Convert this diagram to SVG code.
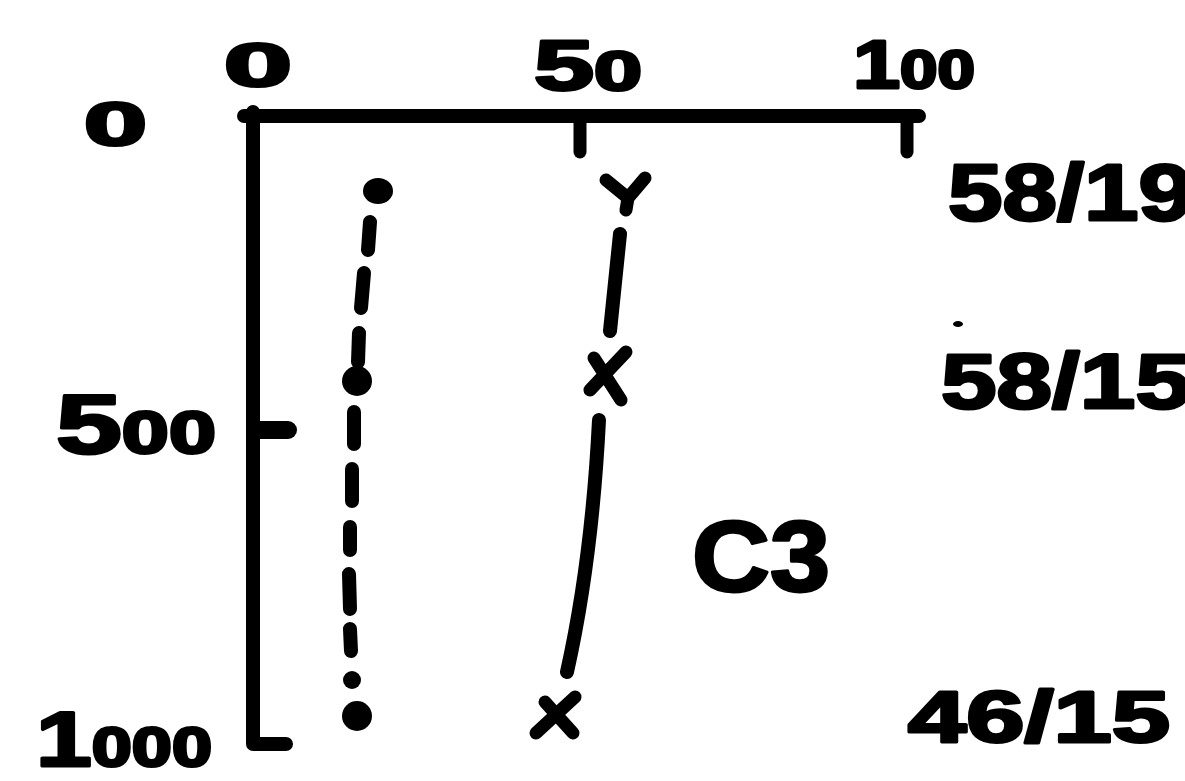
<svg xmlns="http://www.w3.org/2000/svg" width="1185" height="781" viewBox="0 0 1185 781">
<style>
  .ink { stroke: #000; fill: none; stroke-linecap: round; stroke-linejoin: round; }
  .axis { stroke-width: 14; }
  .dash { stroke-width: 14; }
  .mark { stroke-width: 13; }
  .dot { fill: #000; }
  .lbl { font-family: "Liberation Sans", Arial, sans-serif; font-weight: bold; fill: #000; stroke: #000; stroke-width: 3; stroke-linejoin: round; }
</style>
<rect width="1185" height="781" fill="#fff"/>
<g id="axes">
  <path class="ink axis" d="M244 116 H919" stroke-linecap="butt"/>
  <path class="ink axis" d="M253 112 V744 H286"/>
  <path class="ink mark" d="M580 118 V152"/>
  <path class="ink mark" d="M907 118 V152"/>
  <path class="ink" stroke-width="18" d="M255 430 H288"/>
</g>
<g id="axis-labels">
  <text class="lbl" x="224" y="86" font-size="62" textLength="68" lengthAdjust="spacingAndGlyphs">0</text>
  <text class="lbl" x="84" y="145" font-size="62" textLength="63" lengthAdjust="spacingAndGlyphs">0</text>
  <text class="lbl" x="534" y="90" font-size="70" textLength="108" lengthAdjust="spacingAndGlyphs">5<tspan font-size="56">0</tspan></text>
  <text class="lbl" x="853" y="88" font-size="68" textLength="122" lengthAdjust="spacingAndGlyphs">1<tspan font-size="54">00</tspan></text>
  <text class="lbl" x="56" y="453" font-size="84" textLength="160" lengthAdjust="spacingAndGlyphs">5<tspan font-size="60">00</tspan></text>
  <text class="lbl" x="36" y="766" font-size="78" textLength="176" lengthAdjust="spacingAndGlyphs">1<tspan font-size="56">000</tspan></text>
</g>
<g id="connectors">
  <g id="dotted-line">
    <path class="ink dash" d="M370 222 L368 250"/>
    <path class="ink dash" d="M364 273 L361 308"/>
    <path class="ink dash" d="M359 333 L358 362"/>
    <path class="ink dash" d="M354 412 L354 444"/>
    <path class="ink dash" d="M352 469 L352 501"/>
    <path class="ink dash" d="M350 527 L350 550"/>
    <path class="ink dash" d="M349 574 L350 609"/>
    <path class="ink dash" d="M350 629 L351 651"/>
    <circle class="dot" cx="352" cy="680" r="9"/>
  </g>
  <g id="solid-line">
    <path class="ink dash" d="M620 234 L610 331"/>
    <path class="ink dash" d="M599 420 Q592 560 567 672"/>
  </g>
</g>
<g id="dot-series">
  <g id="dot-1"><ellipse class="dot" cx="378" cy="191" rx="15" ry="13"/></g>
  <g id="dot-2"><circle class="dot" cx="357" cy="381" r="15"/></g>
  <g id="dot-3"><circle class="dot" cx="357" cy="716" r="15"/></g>
</g>
<g id="x-series">
  <g id="x-1"><path class="ink mark" d="M606 180 L628 198 L645 178 M628 198 L626 210"/></g>
  <g id="x-2"><path class="ink mark" d="M594 358 L621 400 M626 352 L590 390"/></g>
  <g id="x-3"><path class="ink mark" d="M545 702 L573 733 M575 697 L536 733"/></g>
</g>
<g id="value-labels">
  <text class="lbl" x="948" y="220" font-size="80" textLength="245" lengthAdjust="spacingAndGlyphs">58/19</text>
  <ellipse class="dot" cx="958" cy="324" rx="5" ry="3"/>
  <text class="lbl" x="941" y="408" font-size="78" textLength="250" lengthAdjust="spacingAndGlyphs">58/15</text>
  <text class="lbl" x="908" y="742" font-size="72" textLength="262" lengthAdjust="spacingAndGlyphs">46/15</text>
  <text class="lbl" x="692" y="591" font-size="100" textLength="138" lengthAdjust="spacingAndGlyphs">C3</text>
</g>
</svg>
